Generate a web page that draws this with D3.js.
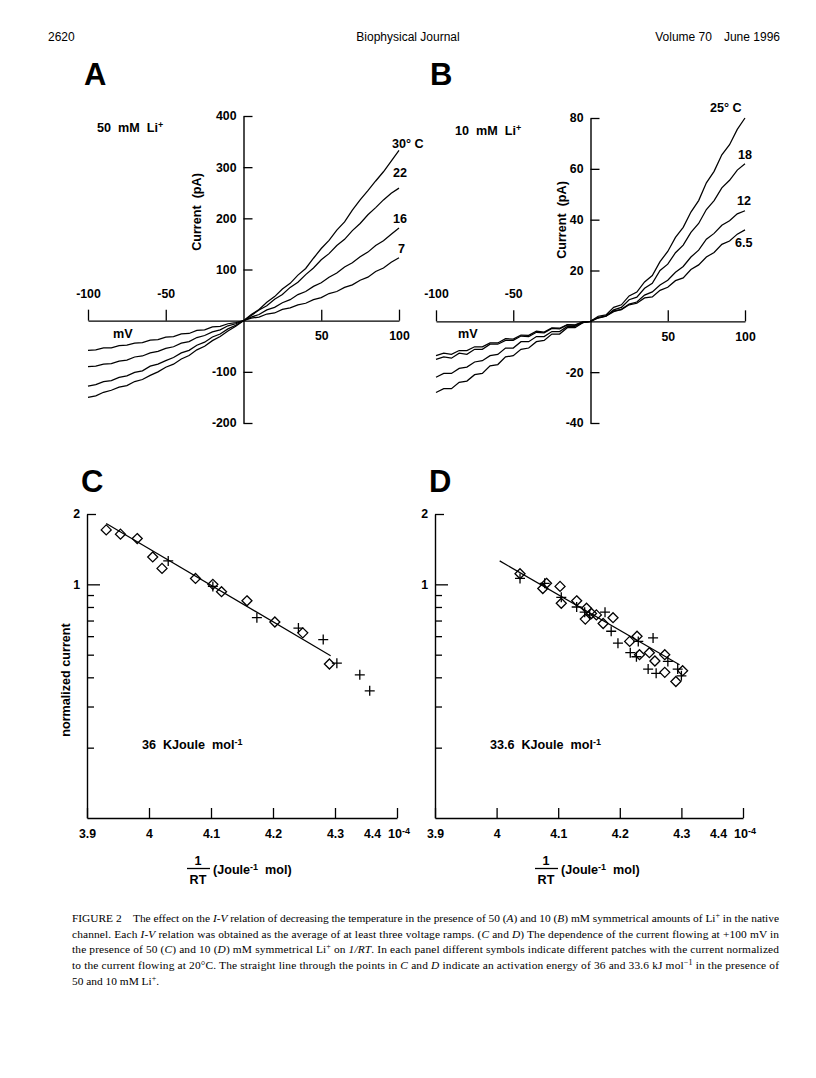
<!DOCTYPE html>
<html>
<head>
<meta charset="utf-8">
<script src="https://cdn.jsdelivr.net/npm/d3@7"></script>
<style>
  body { margin: 0; background: #fff; }
  svg text { font-family: "Liberation Sans", Arial, sans-serif; fill: #000; }
  .lab { font-weight: bold; font-size: 12.6px; }
  .tick text { font-weight: bold; font-size: 12.3px; font-family: "Liberation Sans", Arial, sans-serif; fill: #000; }
  .cap { font-family: "Liberation Serif", "Times New Roman", serif; font-size: 11.4px; }
</style>
</head>
<body>
<div id="cont"></div>
<script>
// ---- data: I-V traces (mV, pA) ----
var mV = [-100,-95,-90,-85,-80,-75,-70,-65,-60,-55,-50,-45,-40,-35,-30,-25,-20,-15,-10,-5,0,
          5,10,15,20,25,30,35,40,45,50,55,60,65,70,75,80,85,90,95,100];

// panel A, 50 mM Li+
var a30 = [-150,-147,-140,-136,-130,-127,-119,-115,-107,-100,-91,-85,-75,-68,-57,-50,-39,-31,-20,-11,0,
           12,22,36,47,62,73,89,102,122,141,157,177,193,216,236,254,273,291,312,333];
var a22 = [-128,-125,-119,-117,-111,-108,-101,-98,-89,-85,-78,-72,-63,-58,-48,-42,-32,-26,-16,-9,0,
           10,21,29,42,51,65,75,90,103,119,131,147,159,176,190,207,221,236,249,259];
var a16 = [-90,-89,-85,-84,-79,-77,-71,-69,-63,-60,-54,-51,-44,-41,-33,-29,-22,-18,-10,-6,0,
           7,12,21,26,35,41,51,57,67,74,85,93,105,113,125,134,147,156,169,181];
var a7  = [-58,-57,-53,-53,-49,-48,-44,-43,-38,-37,-32,-31,-26,-25,-19,-18,-12,-11,-6,-4,0,
           5,7,13,15,22,25,31,34,41,45,53,57,65,70,79,85,96,103,114,123];

// panel B, 10 mM Li+
var b25 = [-28,-26.5,-26.5,-24,-23.5,-21,-20.5,-17.5,-17,-14,-13.5,-11,-10.5,-8,-7.5,-5,-5,-2.5,-2.5,-0.5,0,
           2,2.5,5.5,6.5,10,11.5,15.5,18,23.5,27.5,33,37,43,47.5,54.5,59,65.5,69.5,75.5,80];
var b18 = [-22,-20.5,-20.5,-18.5,-18,-16,-15.5,-13.5,-13,-10.5,-10.5,-8,-8,-6,-6,-4,-4,-2,-2,-0.5,0,
           1.5,2,4.5,5.5,8.5,9.5,13,15,20,22.5,27,30,35,38.5,44,47.5,52.5,55.5,59.5,62];
var b12 = [-15,-14,-14.5,-12.5,-13,-11,-11,-9,-9,-7.5,-7.5,-5.8,-6,-4.3,-4.5,-2.8,-3,-1.4,-1.6,-0.3,0,
           1.3,2,3.8,4.7,6.8,7.6,10.3,11.6,14.3,16.2,19.3,21.6,25.3,28,32.3,34.6,37.8,39.6,42.3,43.5];
var b65 = [-13.5,-12.5,-13,-11.5,-11.5,-10,-10,-8.5,-8.5,-6.8,-7,-5.4,-5.5,-3.9,-4.2,-2.6,-2.7,-1.3,-1.4,-0.2,0,
           1.5,2.2,4.1,4.6,6.5,7.1,9.2,9.6,12.2,13.4,16,17.1,20.4,22.2,25.3,27.1,30.3,31.6,34.3,36];

// ---- data: normalized current vs 1/RT (x in 10^-4) ----
var cDiamX  = [3.931,3.954,3.981,4.006,4.021,4.075,4.103,4.117,4.158,4.203,4.248,4.291];
var cDiamY  = [1.71,1.64,1.57,1.31,1.17,1.06,1.0,0.93,0.85,0.69,0.62,0.456];
var cCrossX = [4.031,4.103,4.174,4.241,4.281,4.303,4.340,4.356];
var cCrossY = [1.26,0.98,0.72,0.65,0.58,0.46,0.41,0.35];
var cFitX = [3.931, 4.293], cFitY = [1.82, 0.495];

var dDiamX  = [4.038,4.075,4.081,4.103,4.105,4.130,4.146,4.144,4.154,4.162,4.173,4.189,4.216,4.228,4.232,4.248,4.257,4.273,4.273,4.291,4.302];
var dDiamY  = [1.11,0.96,1.01,0.98,0.83,0.85,0.79,0.71,0.75,0.74,0.68,0.72,0.57,0.60,0.50,0.51,0.47,0.50,0.42,0.384,0.427];
var dCrossX = [4.038,4.078,4.105,4.130,4.143,4.151,4.176,4.186,4.197,4.217,4.227,4.230,4.254,4.246,4.259,4.278,4.294,4.300];
var dCrossY = [1.06,1.01,0.88,0.80,0.76,0.74,0.76,0.63,0.56,0.51,0.49,0.57,0.59,0.434,0.416,0.468,0.434,0.406];
var dFitX = [4.005, 4.297], dFitY = [1.26, 0.453];

var xTicksIV = [-100, -50, 50, 100];
var yTicksA = [-200, -100, 100, 200, 300, 400];
var yTicksB = [-40, -20, 20, 40, 60, 80];
var xTicksT = [3.9, 4, 4.1, 4.2, 4.3, 4.4];
var yTicksT = [0.2, 0.3, 0.4, 0.5, 0.6, 0.7, 0.8, 0.9, 1, 2];

var plain = function(d) { return String(d); };

var svg = d3.select("#cont").append("svg")
    .attr("width", 816)
    .attr("height", 1078);

// header
svg.append("text").attr("x", 48).attr("y", 41).style("font-size", "12px").text("2620");
svg.append("text").attr("x", 408).attr("y", 41).attr("text-anchor", "middle").style("font-size", "12px").text("Biophysical Journal");
svg.append("text").attr("x", 780).attr("y", 41).attr("text-anchor", "end").style("font-size", "12px")
    .text("Volume 70\u2002\u2002June 1996");

// panel letters
[["A", 84, 85], ["B", 430, 85], ["C", 81, 492], ["D", 429, 492]].forEach(function(p) {
  svg.append("text").attr("x", p[1]).attr("y", p[2])
     .style("font-size", "31px").style("font-weight", "bold").text(p[0]);
});

// ---------- I-V panels ----------
function ivPanel(x, y, yTicks, series) {
  var g = svg.append("g");

  // y axis, ticks to the right
  g.append("g")
      .attr("transform", "translate(" + x(0) + ",0)")
      .call(d3.axisLeft(y).tickValues(yTicks).tickFormat(plain).tickSizeInner(-9).tickSizeOuter(0).tickPadding(7))
      .call(function(a) { a.select(".domain").attr("stroke-width", 1.4); a.selectAll("line").attr("stroke-width", 1.3); });

  // x axis: negative labels above, positive labels below
  g.append("g")
      .attr("transform", "translate(0," + y(0) + ")")
      .call(d3.axisTop(x).tickValues(xTicksIV.filter(function(d) { return d < 0; })).tickFormat(plain)
                .tickSizeInner(11).tickSizeOuter(0).tickPadding(12))
      .call(function(a) { a.select(".domain").attr("stroke-width", 1.4); a.selectAll("line").attr("stroke-width", 1.3); });
  g.append("g")
      .attr("transform", "translate(0," + y(0) + ")")
      .call(d3.axisBottom(x).tickValues(xTicksIV.filter(function(d) { return d > 0; })).tickFormat(plain)
                .tickSizeInner(-11).tickSizeOuter(0).tickPadding(11))
      .call(function(a) { a.select(".domain").remove(); a.selectAll("line").attr("stroke-width", 1.3); });

  var line = d3.line()
      .x(function(d, i) { return x(mV[i]); })
      .y(function(d) { return y(d); });

  series.forEach(function(s) {
    g.append("path")
        .datum(s)
        .attr("fill", "none")
        .attr("stroke", "#000")
        .attr("stroke-width", 1.25)
        .attr("d", line);
  });
  return g;
}

var xA = d3.scaleLinear().domain([-100, 100]).range([88, 399]);
var yA = d3.scaleLinear().domain([-200, 400]).range([423, 116]);
var gA = ivPanel(xA, yA, yTicksA, [a30, a22, a16, a7]);

var xB = d3.scaleLinear().domain([-100, 100]).range([436, 745]);
var yB = d3.scaleLinear().domain([-40, 80]).range([423, 118]);
var gB = ivPanel(xB, yB, yTicksB, [b25, b18, b12, b65]);

function label(g, x, y, txt, anchor) {
  return g.append("text").attr("class", "lab").attr("x", x).attr("y", y)
      .attr("text-anchor", anchor || "start").attr("xml:space", "preserve").text(txt);
}
function ionLabel(g, x, y, txt) {
  var t = g.append("text").attr("class", "lab").attr("x", x).attr("y", y).attr("xml:space", "preserve");
  t.append("tspan").text(txt);
  t.append("tspan").attr("dy", -4).style("font-size", "9px").text("+");
}

// A labels
ionLabel(gA, 97, 132, "50  mM  Li");
label(gA, 392, 148, "30\u00B0 C");
label(gA, 393, 177, "22");
label(gA, 393, 223, "16");
label(gA, 398, 253, "7");
label(gA, 113, 338, "mV");
gA.append("text").attr("class", "lab").attr("transform", "translate(201,212) rotate(-90)")
    .attr("text-anchor", "middle").attr("xml:space", "preserve").text("Current  (pA)");

// B labels
ionLabel(gB, 455, 135, "10  mM  Li");
label(gB, 710, 112, "25\u00B0 C");
label(gB, 738, 159, "18");
label(gB, 737, 205, "12");
label(gB, 735, 247, "6.5");
label(gB, 458, 338, "mV");
gB.append("text").attr("class", "lab").attr("transform", "translate(566,220) rotate(-90)")
    .attr("text-anchor", "middle").attr("xml:space", "preserve").text("Current  (pA)");

// ---------- Arrhenius panels ----------
function arrPanel(x, y, diamX, diamY, crossX, crossY, fitX, fitY, energy) {
  var g = svg.append("g");

  g.append("g")
      .attr("transform", "translate(" + x(3.9) + ",0)")
      .call(d3.axisLeft(y).tickValues(yTicksT)
                .tickFormat(function(d) { return (d === 1 || d === 2) ? d : ""; })
                .tickSizeInner(-7).tickSizeOuter(0).tickPadding(7))
      .call(function(a) {
        a.select(".domain").attr("stroke-width", 1.4);
        a.selectAll(".tick line").attr("stroke-width", 1.3)
          .attr("x2", function(d) { return d === 1 ? 13 : (d === 2 ? 9 : 7); });
      });

  var xa = g.append("g")
      .attr("transform", "translate(0," + y(0.1) + ")")
      .call(d3.axisBottom(x).tickValues(xTicksT).tickFormat(d3.format(""))
                .tickSizeInner(-10).tickSizeOuter(0).tickPadding(11))
      .call(function(a) { a.select(".domain").attr("stroke-width", 1.4); a.selectAll("line").attr("stroke-width", 1.3); });
  xa.selectAll(".tick").filter(function(d) { return d === 4.4; }).select("text").attr("x", -25);

  var x0 = x(4.4);
  var ex = g.append("text").attr("class", "lab").attr("x", x0 - 9).attr("y", y(0.1) + 20);
  ex.append("tspan").text("10");
  ex.append("tspan").attr("dy", -4).style("font-size", "9px").text("-4");

  // fit line
  g.append("path")
      .datum(d3.zip(fitX, fitY))
      .attr("fill", "none").attr("stroke", "#000").attr("stroke-width", 1.2)
      .attr("d", d3.line().x(function(d) { return x(d[0]); }).y(function(d) { return y(d[1]); }));

  // diamonds
  g.selectAll("path.diam")
      .data(d3.zip(diamX, diamY))
    .enter().append("path")
      .attr("class", "diam")
      .attr("transform", function(d) { return "translate(" + x(d[0]) + "," + y(d[1]) + ")"; })
      .attr("d", "M0,-5L5,0L0,5L-5,0Z")
      .attr("fill", "none").attr("stroke", "#000").attr("stroke-width", 1.3);

  // crosses
  g.selectAll("path.cross")
      .data(d3.zip(crossX, crossY))
    .enter().append("path")
      .attr("class", "cross")
      .attr("transform", function(d) { return "translate(" + x(d[0]) + "," + y(d[1]) + ")"; })
      .attr("d", "M-5,0H5M0,-5V5")
      .attr("fill", "none").attr("stroke", "#000").attr("stroke-width", 1.3);

  // energy text
  var x39 = x(3.9);
  var et = g.append("text").attr("class", "lab").attr("x", x39 + 55).attr("y", 749).attr("xml:space", "preserve");
  et.append("tspan").text(energy + "  KJoule  mol");
  et.append("tspan").attr("dy", -4).style("font-size", "9px").text("-1");

  // x label: 1/RT (Joule-1 mol)
  label(g, x39 + 111, 865, "1", "middle");
  g.append("line").attr("x1", x39 + 100).attr("x2", x39 + 123).attr("y1", 868.5).attr("y2", 868.5)
      .attr("stroke", "#000").attr("stroke-width", 1.3);
  label(g, x39 + 111, 884, "RT", "middle");
  var xl = g.append("text").attr("class", "lab").attr("x", x39 + 126).attr("y", 874).attr("xml:space", "preserve");
  xl.append("tspan").text("(Joule");
  xl.append("tspan").attr("dy", -4).style("font-size", "9px").text("-1");
  xl.append("tspan").attr("dy", 4).text("  mol)");
  return g;
}

var xC = d3.scaleLinear().domain([3.9, 4.4]).range([87, 397]);
var yC = d3.scaleLog().domain([0.1, 2]).range([818, 514]);
var gC = arrPanel(xC, yC, cDiamX, cDiamY, cCrossX, cCrossY, cFitX, cFitY, "36");
gC.append("text").attr("class", "lab").attr("transform", "translate(70,680) rotate(-90)")
    .attr("text-anchor", "middle").text("normalized current");

var xD = d3.scaleLinear().domain([3.9, 4.4]).range([435, 743]);
var yD = d3.scaleLog().domain([0.1, 2]).range([818, 514]);
arrPanel(xD, yD, dDiamX, dDiamY, dCrossX, dCrossY, dFitX, dFitY, "33.6");

// ---------- caption ----------
var capLines = [
  [["FIGURE 2\u2003The effect on the "], ["I-V", "i"], [" relation of decreasing the temperature in the presence of 50 ("], ["A", "i"], [") and 10 ("], ["B", "i"], [") mM symmetrical amounts of Li"], ["+", "s"], [" in the native"]],
  [["channel. Each "], ["I-V", "i"], [" relation was obtained as the average of at least three voltage ramps. ("], ["C", "i"], [" and "], ["D", "i"], [") The dependence of the current flowing at +100 mV in"]],
  [["the presence of 50 ("], ["C", "i"], [") and 10 ("], ["D", "i"], [") mM symmetrical Li"], ["+", "s"], [" on "], ["1/RT", "i"], [". In each panel different symbols indicate different patches with the current normalized"]],
  [["to the current flowing at 20\u00B0C. The straight line through the points in "], ["C", "i"], [" and "], ["D", "i"], [" indicate an activation energy of 36 and 33.6 kJ mol"], ["\u22121", "s"], [" in the presence of"]],
  [["50 and 10 mM Li"], ["+", "s"], ["."]]
];
var capY = [922, 938, 953, 969, 985];
capLines.forEach(function(parts, li) {
  var t = svg.append("text").attr("class", "cap").attr("x", 72).attr("y", capY[li]);
  if (li < 4) t.attr("textLength", 707).attr("lengthAdjust", "spacing");
  var sup = false;
  parts.forEach(function(p) {
    var s = t.append("tspan").text(p[0]);
    if (p[1] === "i") s.style("font-style", "italic");
    if (p[1] === "s") { s.attr("dy", -4).style("font-size", "8px"); sup = true; }
    else if (sup) { s.attr("dy", 4); sup = false; }
  });
});
</script>
</body>
</html>
